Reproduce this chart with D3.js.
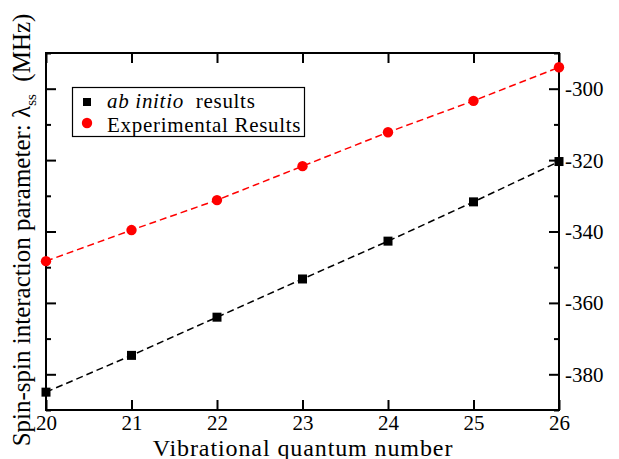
<!DOCTYPE html>
<html><head><meta charset="utf-8">
<script src="https://cdn.jsdelivr.net/npm/d3@7"></script>
<style>body{margin:0;background:#fff}svg{display:block}</style>
</head><body>
<script>
const vib = [20, 21, 22, 23, 24, 25, 26];
const abInitio = [-385.0, -374.7, -364.0, -353.3, -342.7, -331.7, -320.4];
const experimental = [-348.3, -339.6, -331.2, -321.7, -312.2, -303.4, -294.0];
const yTicks = [-380, -360, -340, -320, -300];
const yMinorTicks = [-390, -370, -350, -330, -310, -290];

const FF = '"Liberation Serif", "Times New Roman", serif';
const W = 619, H = 459;
const m = {left: 46, right: 559, top: 53, bottom: 410};
const svg = d3.select("body").append("svg").attr("width", W).attr("height", H)
  .style("font-family", FF);
const x = d3.scaleLinear().domain([20, 26]).range([m.left, m.right]);
const y = d3.scaleLinear().domain([-390, -290]).range([m.bottom, m.top]);

const gB = svg.append("g").attr("transform", `translate(0,${m.bottom})`)
  .call(d3.axisBottom(x).tickValues(vib).tickSize(-10).tickPadding(5).tickFormat(d3.format("d")));
const gT = svg.append("g").attr("transform", `translate(0,${m.top})`)
  .call(d3.axisTop(x).tickValues(vib).tickSize(-10).tickFormat(""));
const gL = svg.append("g").attr("transform", `translate(${m.left},0)`)
  .call(d3.axisLeft(y).tickValues(yTicks).tickSize(-10).tickFormat(""));
const gLm = svg.append("g").attr("transform", `translate(${m.left},0)`)
  .call(d3.axisLeft(y).tickValues(yMinorTicks).tickSize(-5).tickFormat(""));
const gR = svg.append("g").attr("transform", `translate(${m.right},0)`)
  .call(d3.axisRight(y).tickValues(yTicks).tickSize(-10).tickPadding(6).tickFormat(d => "-" + Math.abs(d)));
const gRm = svg.append("g").attr("transform", `translate(${m.right},0)`)
  .call(d3.axisRight(y).tickValues(yMinorTicks).tickSize(-5).tickFormat(""));
[gB, gT, gL, gLm, gR, gRm].forEach(g => {
  g.attr("font-family", null).attr("font-size", null);
  g.select(".domain").remove();
  g.selectAll(".tick line").attr("stroke", "#000").attr("stroke-width", 2);
  g.selectAll("text").style("font-family", FF).style("font-size", "21px").attr("fill", "#000");
});
gB.selectAll("text").attr("dy", "0.71em");
gR.selectAll("text").attr("dy", "0.33em");

svg.append("rect").attr("x", m.left).attr("y", m.top)
  .attr("width", m.right - m.left).attr("height", m.bottom - m.top)
  .attr("fill", "none").attr("stroke", "#000").attr("stroke-width", 2);

const line = d3.line().x(d => x(d[0])).y(d => y(d[1]));
const dA = vib.map((v, i) => [v, abInitio[i]]);
const dE = vib.map((v, i) => [v, experimental[i]]);
svg.append("path").datum(dA).attr("d", line).attr("fill", "none")
  .attr("stroke", "#000").attr("stroke-width", 1.5).attr("stroke-dasharray", "7,4");
svg.append("path").datum(dE).attr("d", line).attr("fill", "none")
  .attr("stroke", "#ff0000").attr("stroke-width", 1.5).attr("stroke-dasharray", "7,4");

const sq = 9;
svg.selectAll(".sq").data(dA).join("rect")
  .attr("x", d => x(d[0]) - sq / 2).attr("y", d => y(d[1]) - sq / 2)
  .attr("width", sq).attr("height", sq).attr("fill", "#000");
svg.selectAll(".ci").data(dE).join("circle")
  .attr("cx", d => x(d[0])).attr("cy", d => y(d[1])).attr("r", 5.2).attr("fill", "#ff0000");

// legend
const lg = svg.append("g");
lg.append("rect").attr("x", 72.5).attr("y", 87.5).attr("width", 232).attr("height", 49)
  .attr("fill", "#fff").attr("stroke", "#000").attr("stroke-width", 1.2);
lg.append("rect").attr("x", 83).attr("y", 98).attr("width", 8).attr("height", 8).attr("fill", "#000");
lg.append("circle").attr("cx", 87).attr("cy", 123).attr("r", 5.2).attr("fill", "#ff0000");
const t1 = lg.append("text").attr("x", 107).attr("y", 108).style("font-size", "21px")
  .style("letter-spacing", "0.7px").attr("fill", "#000").attr("xml:space", "preserve");
t1.append("tspan").attr("font-style", "italic").text("ab initio");
t1.append("tspan").text("  results");
lg.append("text").attr("x", 107).attr("y", 131.5).style("font-size", "21px")
  .style("letter-spacing", "0.7px").attr("fill", "#000")
  .text("Experimental Results");

// axis titles
svg.append("text").attr("x", 303).attr("y", 455.5).attr("text-anchor", "middle")
  .style("font-size", "24px").style("letter-spacing", "0.9px").attr("fill", "#000")
  .text("Vibrational quantum number");
const yt = svg.append("text").attr("transform", "translate(30,230) rotate(-90)")
  .attr("text-anchor", "middle").style("font-size", "25px").attr("fill", "#000")
  .attr("xml:space", "preserve");
yt.append("tspan").text("Spin-spin interaction parameter: \u03bb");
yt.append("tspan").style("font-size", "15px").attr("dy", 6).text("ss");
yt.append("tspan").attr("dy", -6).text("  (MHz)");
</script>
</body></html>
